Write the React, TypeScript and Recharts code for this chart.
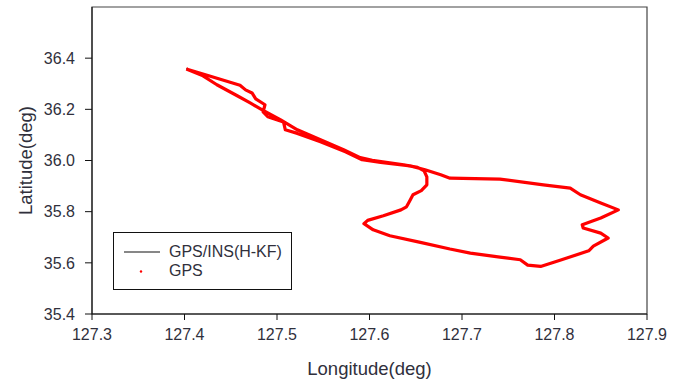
import { LineChart, Line, XAxis, YAxis, Legend, Label, ReferenceArea } from "recharts";

// track, in path order (deg)
const lonValues = [
  127.402, 127.42, 127.435, 127.457, 127.471, 127.484, 127.504, 127.522, 127.547, 127.572,
  127.59, 127.603, 127.637, 127.652, 127.659, 127.662, 127.662, 127.656, 127.647, 127.643,
  127.64, 127.634, 127.615, 127.598, 127.594, 127.604, 127.622, 127.655, 127.687, 127.709,
  127.741, 127.763, 127.771, 127.785, 127.806, 127.837, 127.842, 127.858, 127.85, 127.831,
  127.83, 127.85, 127.869, 127.85, 127.828, 127.817, 127.788, 127.741, 127.687, 127.677,
  127.66, 127.644, 127.612, 127.592, 127.574, 127.547, 127.522, 127.509, 127.507, 127.49,
  127.485, 127.487, 127.477, 127.473, 127.466, 127.46, 127.428, 127.402,
];
const latValues = [
  36.358, 36.331, 36.296, 36.253, 36.225, 36.198, 36.159, 36.12, 36.081, 36.042,
  36.011, 36.001, 35.983, 35.973, 35.96, 35.936, 35.905, 35.882, 35.866, 35.839,
  35.819, 35.807, 35.784, 35.766, 35.753, 35.729, 35.706, 35.68, 35.654, 35.638,
  35.622, 35.612, 35.591, 35.586, 35.61, 35.647, 35.665, 35.697, 35.716, 35.736,
  35.749, 35.775, 35.807, 35.834, 35.866, 35.892, 35.905, 35.927, 35.931, 35.944,
  35.964, 35.979, 35.993, 36.003, 36.034, 36.073, 36.106, 36.12, 36.151, 36.171,
  36.19, 36.218, 36.241, 36.264, 36.276, 36.294, 36.329, 36.358,
];

const xTicks = [127.3, 127.4, 127.5, 127.6, 127.7, 127.8, 127.9];
const yTicks = [35.4, 35.6, 35.8, 36.0, 36.2, 36.4];

const seriesNames = ["GPS/INS(H-KF)", "GPS"];

const track = lonValues.map((lon, i) => ({ lon, lat: latValues[i] }));

const FONT = "Arial, 'Liberation Sans', sans-serif";
const tickStyle = { fill: "#30303c", fontSize: 16, fontFamily: FONT };

const LegendBox = () => (
  <div
    style={{
      position: "relative",
      width: 179,
      height: 58,
      border: "1.5px solid #111",
      boxSizing: "border-box",
      background: "#fff",
      fontFamily: FONT,
      fontSize: 16,
      color: "#30303c",
    }}
  >
    <svg width={60} height={56} style={{ position: "absolute", left: 0, top: 0 }}>
      <line x1={10} y1={19} x2={46} y2={19} stroke="#111" strokeWidth={1.2} />
      <circle cx={27} cy={38.5} r={1.2} fill="#ff0000" />
    </svg>
    <span style={{ position: "absolute", left: 55, top: 9, lineHeight: "20px" }}>{seriesNames[0]}</span>
    <span style={{ position: "absolute", left: 55, top: 28, lineHeight: "20px" }}>{seriesNames[1]}</span>
  </div>
);

export default function App() {
  return (
    <div style={{ position: "absolute", left: 0, top: 0, background: "#fff" }}>
      <LineChart width={682} height={383} data={track} margin={{ top: 7, right: 35, left: 0, bottom: 0 }}>
        <XAxis
          dataKey="lon"
          type="number"
          domain={[127.3, 127.9]}
          ticks={xTicks}
          tickFormatter={(v) => v.toFixed(1)}
          tick={tickStyle}
          tickSize={6}
          tickMargin={9}
          height={69}
          stroke="#111"
          allowDataOverflow
        >
          <Label
            value="Longitude(deg)"
            position="insideBottom"
            offset={8}
            style={{ fill: "#30303c", fontSize: 18.5, fontFamily: FONT }}
          />
        </XAxis>
        <YAxis
          dataKey="lat"
          type="number"
          domain={[35.4, 36.6]}
          ticks={yTicks}
          tickFormatter={(v) => v.toFixed(1)}
          tick={tickStyle}
          tickSize={7}
          tickMargin={10}
          width={92}
          stroke="#111"
          allowDataOverflow
        >
          <Label
            value="Latitude(deg)"
            angle={-90}
            position="insideLeft"
            offset={25}
            style={{ fill: "#30303c", fontSize: 18.5, fontFamily: FONT, textAnchor: "middle" }}
          />
        </YAxis>
        {/* frame around the plot area */}
        <ReferenceArea
          x1={127.3}
          x2={127.9}
          y1={35.4}
          y2={36.6}
          fill="none"
          fillOpacity={0}
          stroke="#444"
          strokeWidth={1.2}
          strokeOpacity={1}
          ifOverflow="visible"
        />
        <Legend
          layout="horizontal"
          verticalAlign="middle"
          align="center"
          content={<LegendBox />}
          wrapperStyle={{ left: 113, top: 232, width: 179, height: 58 }}
        />
        <Line
          dataKey="lat"
          name={seriesNames[0]}
          stroke="#111"
          strokeWidth={1}
          dot={false}
          isAnimationActive={false}
        />
        <Line
          dataKey="lat"
          name={seriesNames[1]}
          stroke="#ff0000"
          strokeWidth={3.2}
          strokeLinejoin="round"
          dot={false}
          isAnimationActive={false}
        />
      </LineChart>
    </div>
  );
}
